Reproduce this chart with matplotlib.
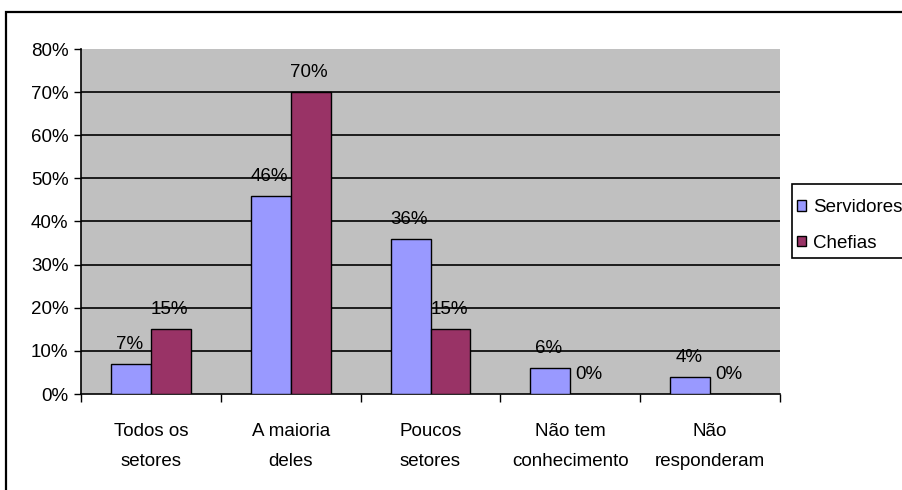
import matplotlib.pyplot as plt
from matplotlib.patches import Rectangle
import numpy as np

# Survey answers, in percent
categorias = ['Todos os\nsetores', 'A maioria\ndeles', 'Poucos\nsetores',
              'Não tem\nconhecimento', 'Não\nresponderam']
servidores = [7, 46, 36, 6, 4]
chefias = [15, 70, 15, 0, 0]
series_nomes = ['Servidores', 'Chefias']

fs = 13.5
plt.rcParams['font.family'] = ['Liberation Sans', 'DejaVu Sans']
plt.rcParams['font.size'] = fs

fig = plt.figure(figsize=(9.02, 4.90), dpi=100)

# Outer chart frame (runs off the right and bottom edges)
fig.patches.append(Rectangle((6 / 902, -0.1), 1.0, (490 - 12) / 490 + 0.1,
                             transform=fig.transFigure, fill=False,
                             edgecolor='black', linewidth=1.6))

ax = fig.add_axes([81 / 902, (490 - 394) / 490, 699 / 902, 345 / 490])
ax.set_facecolor('#C0C0C0')

x = np.arange(len(categorias))
w = 0.285
b1 = ax.bar(x - w / 2, servidores, w, color='#9999FF', edgecolor='black',
            linewidth=1, label=series_nomes[0], zorder=3)
b2 = ax.bar(x + w / 2, chefias, w, color='#993366', edgecolor='black',
            linewidth=1, label=series_nomes[1], zorder=3)

# Value labels above each bar
for bars, vals in ((b1, servidores), (b2, chefias)):
    for r, v in zip(bars, vals):
        ax.annotate(f'{v}%', (r.get_x() + r.get_width() / 2, v),
                    xytext=(-1, 8), textcoords='offset points',
                    ha='center', va='bottom', fontsize=fs, zorder=4)

ax.set_xlim(-0.5, len(categorias) - 0.5)
ax.set_ylim(0, 80)
ax.set_yticks(range(0, 81, 10))
ax.set_yticklabels([f'{t}%' for t in range(0, 81, 10)])
for t in range(10, 80, 10):
    ax.axhline(t, color='black', linewidth=1.2, zorder=1)

# Category labels between boundary ticks
ax.set_xticks(np.arange(len(categorias) + 1) - 0.5)
ax.set_xticklabels([])
ax.set_xticks(x, minor=True)
ax.set_xticklabels(categorias, minor=True, linespacing=2.0)
ax.tick_params(axis='x', which='major', direction='out', length=6, width=1)
ax.tick_params(axis='x', which='minor', length=0, pad=21)
ax.tick_params(axis='y', direction='out', length=5, width=1, pad=4)

for s in ('top', 'right'):
    ax.spines[s].set_visible(False)
ax.spines['left'].set_linewidth(1.2)
ax.spines['bottom'].set_linewidth(1.2)

# Legend box drawn separately so the padding can be set freely
fig.patches.append(Rectangle((792 / 902, (490 - 258) / 490), 0.2, 74 / 490,
                             transform=fig.transFigure, facecolor='white',
                             edgecolor='black', linewidth=1.2, zorder=2))
leg = fig.legend(handles=[b1, b2], loc='upper left',
                 bbox_to_anchor=(797 / 902, (490 - 199) / 490),
                 frameon=False, handlelength=0.5, handleheight=0.5,
                 handletextpad=0.35, borderpad=0, labelspacing=1.0,
                 borderaxespad=0)
leg.set_zorder(3)

fig.savefig('out.png', dpi=100)
